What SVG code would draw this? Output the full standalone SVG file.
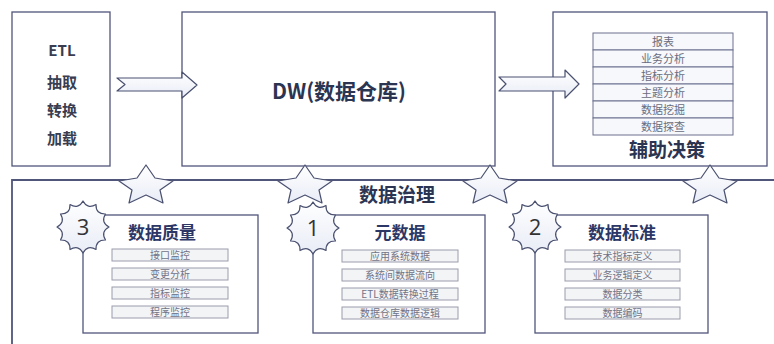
<svg xmlns="http://www.w3.org/2000/svg" xmlns:xlink="http://www.w3.org/1999/xlink" width="774" height="344" viewBox="0 0 774 344">
<style>
.box{fill:#fff;stroke:#50557a;stroke-width:1.3}
.line{fill:none;stroke:#50557a;stroke-width:1.8}
.shape{fill:url(#lg);stroke:#4a5070;stroke-width:1.2;stroke-linejoin:round}
.cn{font-family:"Noto Sans CJK SC","Noto Sans",sans-serif}
.etl{font-size:15px;fill:#3a3d50;text-anchor:middle;font-weight:bold}
.big{font-size:20px;fill:#2b3552;text-anchor:middle}
.title{font-size:17px;fill:#2c3766;text-anchor:middle;font-weight:bold}
.item{fill:#f3f4f6;stroke:#9a9cac;stroke-width:1}
.itxt{font-size:10px;fill:#707386;text-anchor:middle}
.row{fill:#f7f8fb;stroke:#6c7090;stroke-width:1}
.rtxt{font-size:11px;fill:#6a6d80;text-anchor:middle}
.num{font-family:"Open Sans","Liberation Sans",sans-serif;font-size:22px;fill:#333;text-anchor:middle}
</style>
<defs>
<linearGradient id="lg" x1="0" y1="0" x2="0" y2="1">
<stop offset="0" stop-color="#ffffff"/>
<stop offset="1" stop-color="#e8ecf6"/>
</linearGradient>
<path id="badge" d="M0,-26 Q4.66,-17.39 13,-22.52 Q12.73,-12.73 22.52,-13 Q17.39,-4.66 26,0 Q17.39,4.66 22.52,13 Q12.73,12.73 13,22.52 Q4.66,17.39 0,26 Q-4.66,17.39 -13,22.52 Q-12.73,12.73 -22.52,13 Q-17.39,4.66 -26,0 Q-17.39,-4.66 -22.52,-13 Q-12.73,-12.73 -13,-22.52 Q-4.66,-17.39 0,-26 Z"/>
<path id="star" d="M0,-21 L9,-8 L27,-5 L14,4 L17,17 L0,9 L-17,17 L-14,4 L-27,-5 L-9,-8 Z"/>
</defs>

<g id="etl">
<rect class="box" x="12" y="12" width="98" height="154"/>
<text class="cn etl" x="62" y="56">ETL</text>
<text class="cn etl" x="62" y="88">抽取</text>
<text class="cn etl" x="62" y="116">转换</text>
<text class="cn etl" x="62" y="144">加载</text>
</g>

<g id="dw">
<rect class="box" x="182" y="12" width="313" height="154"/>
<text class="cn big" x="339" y="99" font-weight="bold" style="font-size:21px">DW(数据仓库)</text>
</g>

<g id="decision">
<rect class="box" x="553" y="12" width="214" height="154"/>
<rect class="row" x="593" y="33" width="140" height="17"/>
<rect class="row" x="593" y="50" width="140" height="17"/>
<rect class="row" x="593" y="67" width="140" height="17"/>
<rect class="row" x="593" y="84" width="140" height="17"/>
<rect class="row" x="593" y="101" width="140" height="17"/>
<rect class="row" x="593" y="118" width="140" height="17"/>
<text class="cn rtxt" x="663" y="45.5">报表</text>
<text class="cn rtxt" x="663" y="62.5">业务分析</text>
<text class="cn rtxt" x="663" y="79.5">指标分析</text>
<text class="cn rtxt" x="663" y="96.5">主题分析</text>
<text class="cn rtxt" x="663" y="113.5">数据挖掘</text>
<text class="cn rtxt" x="663" y="130.5">数据探查</text>
<text class="cn big" x="667" y="157" font-weight="bold" style="font-size:19px">辅助决策</text>
</g>

<g id="governance">
<path class="line" d="M12,344 L12,180 L774,180"/>
<text class="cn big" x="397" y="202" font-weight="bold" style="font-size:19px">数据治理</text>
</g>

<g id="connectors">
<path class="shape" d="M117,78 L182,78 L182,72 L197,85 L182,98 L182,91 L117,91 L125,84.5 Z"/>
<path class="shape" d="M499,77 L565,77 L565,70 L579,84 L565,98 L565,91 L499,91 L506,84 Z"/>
<use class="shape" xlink:href="#star" x="146" y="186"/>
<use class="shape" xlink:href="#star" x="305" y="186"/>
<use class="shape" xlink:href="#star" x="490" y="186"/>
<use class="shape" xlink:href="#star" x="710" y="186"/>
</g>

<g id="quality">
<rect class="box" x="83" y="215" width="175" height="118"/>
<text class="cn title" x="162" y="239">数据质量</text>
<rect class="item" x="112" y="249" width="116" height="12"/>
<rect class="item" x="112" y="268" width="116" height="12"/>
<rect class="item" x="112" y="287" width="116" height="12"/>
<rect class="item" x="112" y="306" width="116" height="12"/>
<text class="cn itxt" x="170" y="258.5">接口监控</text>
<text class="cn itxt" x="170" y="277.5">变更分析</text>
<text class="cn itxt" x="170" y="296.5">指标监控</text>
<text class="cn itxt" x="170" y="315.5">程序监控</text>
<use class="shape" xlink:href="#badge" x="83" y="227"/>
<text class="num" x="83" y="235">3</text>
</g>

<g id="metadata">
<rect class="box" x="313" y="215" width="172" height="118"/>
<text class="cn title" x="400" y="239">元数据</text>
<rect class="item" x="342" y="250" width="116" height="12"/>
<rect class="item" x="342" y="269" width="116" height="12"/>
<rect class="item" x="342" y="288" width="116" height="12"/>
<rect class="item" x="342" y="307" width="116" height="12"/>
<text class="cn itxt" x="400" y="259.5">应用系统数据</text>
<text class="cn itxt" x="400" y="278.5">系统间数据流向</text>
<text class="cn itxt" x="400" y="297.5">ETL数据转换过程</text>
<text class="cn itxt" x="400" y="316.5">数据仓库数据逻辑</text>
<use class="shape" xlink:href="#badge" x="313" y="228"/>
<text class="num" x="313" y="236">1</text>
</g>

<g id="standard">
<rect class="box" x="535" y="215" width="173" height="118"/>
<text class="cn title" x="622" y="239">数据标准</text>
<rect class="item" x="565" y="250" width="115" height="12"/>
<rect class="item" x="565" y="269" width="115" height="12"/>
<rect class="item" x="565" y="288" width="115" height="12"/>
<rect class="item" x="565" y="307" width="115" height="12"/>
<text class="cn itxt" x="622.5" y="259.5">技术指标定义</text>
<text class="cn itxt" x="622.5" y="278.5">业务逻辑定义</text>
<text class="cn itxt" x="622.5" y="297.5">数据分类</text>
<text class="cn itxt" x="622.5" y="316.5">数据编码</text>
<use class="shape" xlink:href="#badge" x="535" y="227"/>
<text class="num" x="535" y="235">2</text>
</g>
</svg>
